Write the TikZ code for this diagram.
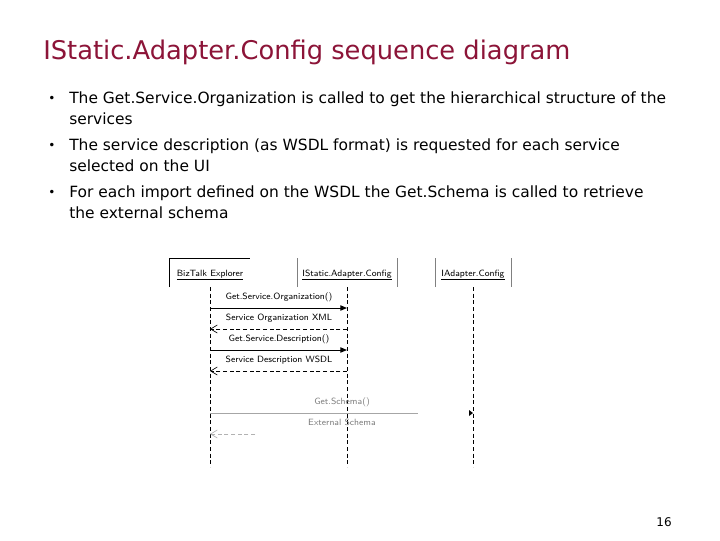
\documentclass[tikz,border=0pt]{standalone}
\usepackage{fontspec}
\setmainfont{DejaVu Sans}
\usetikzlibrary{arrows.meta}
\definecolor{ttl}{HTML}{8C1438}
\begin{document}
\begin{tikzpicture}[x=0.75pt,y=-0.75pt,
  body/.style={anchor=base west,inner sep=0,font=\fontsize{11.6}{14}\selectfont},
  lbl/.style={font=\fontsize{6.8}{8}\selectfont\sffamily,inner sep=0,anchor=base},
  life/.style={densely dashed,line width=0.6pt},
  call/.style={line width=0.7pt,-{Triangle[length=5pt,width=4pt]}},
  ret/.style={densely dashed,line width=0.5pt,-{Straight Barb[length=5pt,width=6pt]}}]
\useasboundingbox[fill=white] (0,0) rectangle (720,540);
\node[anchor=base west,inner sep=0,text=ttl,font=\fontsize{19.3}{22}\selectfont] (title) at (43,59) {IStatic.Adapter.Config sequence diagram};
\foreach \y/\t [count=\i] in {103/{The Get.Service.Organization is called to get the hierarchical structure of the},124/{services},150/{The service description (as WSDL format) is requested for each service},171/{selected on the UI},197/{For each import defined on the WSDL the Get.Schema is called to retrieve},218/{the external schema}}
  \node[body] (l\i) at (69,\y) {\t};
\foreach \y [count=\i] in {103,150,197} \node[body,font=\fontsize{9}{10}\selectfont] (b\i) at (48,\y-1) {•};
% participants
\draw[line width=0.5pt] (169,287) -- (169,258) -- (250,258);
\draw[line width=0.5pt,gray] (297,287) -- (297,258) (397,258) -- (397,287);
\draw[line width=0.5pt,gray] (435,287) -- (435,258) (511,258) -- (511,287);
\node[lbl] (p1) at (210,276) {\underline{BizTalk Explorer}};
\node[lbl] (p2) at (347,276) {\underline{IStatic.Adapter.Config}};
\node[lbl] (p3) at (473,276) {\underline{IAdapter.Config}};
\coordinate (a0) at (210,287); \coordinate (a1) at (210,467);
\coordinate (c0) at (347,287); \coordinate (c1) at (347,467);
\coordinate (d0) at (473,287); \coordinate (d1) at (473,467);
\draw[life] (a0) -- (a1); \draw[life] (c0) -- (c1); \draw[life] (d0) -- (d1);
\node[lbl] at (279,299) {Get.Service.Organization()};
\draw[call] (210,308) -- (347,308);
\node[lbl] at (279,320) {Service Organization XML};
\draw[ret] (347,329) -- (210,329);
\node[lbl] at (279,341) {Get.Service.Description()};
\draw[call] (210,350) -- (347,350);
\node[lbl] at (279,362) {Service Description WSDL};
\draw[ret] (347,371) -- (210,371);
\node[lbl,text=gray] at (342,404) {Get.Schema()};
\draw[line width=0.6pt,gray!70] (210,413) -- (418,413);
\fill[black] (473,413) -- (469,410) -- (469,416) -- cycle;
\node[lbl,text=gray] at (342,425) {External Schema};
\draw[ret,gray!60] (255,434) -- (210,434);
\node[anchor=base east,inner sep=0,font=\fontsize{9}{10}\selectfont] (pg) at (672,526) {16};
\end{tikzpicture}
\end{document}
